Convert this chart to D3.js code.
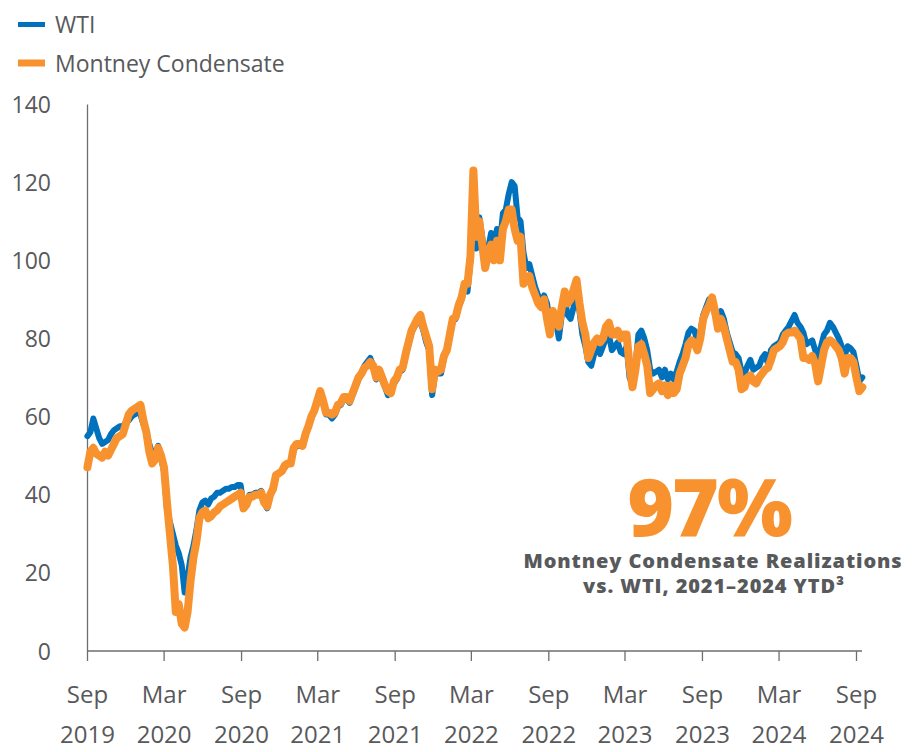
<!DOCTYPE html>
<html>
<head>
<meta charset="utf-8">
<script src="https://cdn.jsdelivr.net/npm/d3@7"></script>
<style>
  html, body { margin: 0; padding: 0; background: #ffffff; }
  svg { display: block; }
</style>
</head>
<body>
<svg id="chart" width="919" height="752"></svg>
<script>
// ---------- DATA (weekly readings, Monday of each week) ----------
const seriesNames = ["WTI", "Montney Condensate"];
const xTickLabels = [["Sep","2019"],["Mar","2020"],["Sep","2020"],["Mar","2021"],["Sep","2021"],["Mar","2022"],["Sep","2022"],["Mar","2023"],["Sep","2023"],["Mar","2024"],["Sep","2024"]];
const yTicks = [0, 20, 40, 60, 80, 100, 120, 140];

const wti2019 = [55,56,59.5,57,54.5, 53,53.5,54,55.5, 56.5,57,57.5,57.5, 58.5,59,60,60.5,61];
const wti2020 = [60.5,58,56,53, 50.5,50.5,52.5,49.5, 46,36,33,30,27, 25,22,15,19, 24,27,31,36,
                 38,38.5,37.5,39,39.5, 40.5,40.5,41,41.5, 41.5,42,42,42.5,42.5, 37,38,40,40,
                 40.5,40.5,41,38, 36.5,40,41.5,45,45.5, 46,47,48,48];
const wti2021 = [51.5,52.5,52.5,52.5, 55,57.5,59.5,61.5, 63.5,66,64,60.5,60.5, 59.5,60.5,62.5,63,
                 64.5,64.5,63.5,65.5,67.5, 69.5,71,73,74, 75,73,69.5,71.5, 69.5,67.5,65.5,66,68.5,
                 69.5,71.5,72,75.5, 78.5,81.5,83,84, 84.5,82,79,77,65.5, 71,71,71,75];
const wti2022 = [77,80.5,84.5,85,88, 90,93,92,100, 119,103,111,106, 99,103,107,104,
                 108,104,112,113,117, 120,119,111,110, 102,98,99,96, 93,91,89,91,89,
                 84,87,84.5,80, 86,90,86,85,88, 91,87,81,78, 74,73,76,79];
const wti2023 = [76,78,80,81,77, 78,79,76.5,76, 78,70,68,73, 81,82,80,77,
                 72,71,71.5,72,70, 72,69.5,71,69.5, 71.5,74,76,78.5,81.5, 82.5,82,79.5,81.5,
                 86,88,90,89.5, 86,84,87,85,81.5, 79,76.5,76,75, 71.5,71,73,74.5];
const wti2024 = [72,72.5,73,75,76, 73.5,77,78,78.5, 79,81,82,83, 84.5,86,84,83,81.5,
                 78.5,79,79.5,77, 75,78,81,82, 84,83,81.5,80,78, 75.5,78,77.5,76.5, 73,69,70];

const mon2019 = [47,51,52,50.5,50, 49.5,51,50,51.5, 53,54.5,55,55.5, 58,60.5,61.5,62,62.5];
const mon2020 = [63,59,56,51, 48,49,52,50, 47,38,30,22,10, 12,7,6,10, 18,24,28,34,
                 35.5,36,34,34.5,35.5, 36,37,37.5,38, 38.5,39,39.5,40,40.5, 36.5,37.5,39.5,39.5,
                 40,40,40.5,38, 37,40,41.5,45,45.5, 46,47.5,48,48];
const mon2021 = [52,53,53,52.5, 55.5,57.5,60,61.5, 64,66.5,64,61,61, 60.5,61,63,63.5,
                 65,65,64,66,68, 70,71,72.5,73, 74,73,70,72, 70,68,66.5,66,69,
                 70,72,72.5,76, 79,82,83.5,85, 86,83,80.5,78,67, 72,71.5,72,75.5];
const mon2022 = [77,81,85,85.5,88.5, 90.5,94,94,101, 123,106,110,104, 98,102,104,100,
                 105,100,108,110,113, 113,108,105,106, 94,95,96,93, 91,89,88,90,85,
                 81,87,85,83, 88,92,89,90,92.5, 95,89,84,81, 75,77,79,80];
const mon2023 = [79,80,83,84,81, 81,82,80,81, 81,73,67.5,72, 78,78.5,76,73,
                 66,67,68,68.5,66.5, 68,65.5,68,66, 67,71,73,75,78.5, 79.5,79,77,80,
                 85,87,88.5,90.5, 87,82.5,85,83,80, 77,74,74,72, 67,67.5,70,70.5];
const mon2024 = [69,68.5,70,71,72, 72.5,74.5,77,77.5, 78,79,81,81.5, 81.5,82,81,80,75,
                 75,74.5,75.5,73.5, 69,73,77,79, 79.5,79,78,77,75, 71,75,75,74, 70,66.5,67.5];

const wtiValues = [].concat(wti2019, wti2020, wti2021, wti2022, wti2023, wti2024);
const montneyValues = [].concat(mon2019, mon2020, mon2021, mon2022, mon2023, mon2024);
const weeks = d3.timeMonday.range(new Date(2019, 8, 2), new Date(2024, 8, 17));

// ---------- LAYOUT ----------
const colors = { wti: "#0071BC", montney: "#F7922F", text: "#58595B", axis: "#6D6E71" };
const font = "'Open Sans', 'Noto Sans', sans-serif";
const svg = d3.select("#chart");

const x = d3.scaleTime()
  .domain([new Date(2019, 8, 1), new Date(2024, 8, 1)])
  .range([87, 856]);
const y = d3.scaleLinear().domain([0, 140]).range([651, 104]);

const n = Math.min(weeks.length, wtiValues.length, montneyValues.length);
const wtiData = d3.range(n).map(i => ({ d: weeks[i], v: wtiValues[i] }));
const monData = d3.range(n).map(i => ({ d: weeks[i], v: montneyValues[i] }));

// ---------- AXES ----------
const tickDates = d3.timeMonth.range(new Date(2019, 8, 1), new Date(2024, 8, 2), 6);
const xAxis = d3.axisBottom(x).tickValues(tickDates).tickSize(10).tickFormat("");
const gx = svg.append("g").attr("transform", `translate(0,${y(0)})`).call(xAxis);
gx.select(".domain").attr("d", `M${x.range()[0]},0H862`).attr("stroke", colors.axis).attr("stroke-width", 1.3);
gx.selectAll(".tick line").attr("stroke", colors.axis).attr("stroke-width", 1.3);

gx.selectAll(".tick").each(function(d, i) {
  const lab = xTickLabels[i];
  const t = d3.select(this).append("text")
    .attr("fill", colors.text).attr("text-anchor", "middle")
    .style("font-family", font).style("font-size", "24px");
  t.append("tspan").attr("x", 0).attr("y", 52).text(lab[0]);
  t.append("tspan").attr("x", 0).attr("y", 92).text(lab[1]);
});

const yAxis = d3.axisLeft(y).tickValues(yTicks).tickSize(0).tickPadding(36);
const gy = svg.append("g").attr("transform", `translate(87,0)`).call(yAxis);
gy.select(".domain").attr("stroke", colors.axis).attr("stroke-width", 1.3);
gy.selectAll(".tick text").attr("fill", colors.text)
  .style("font-family", font).style("font-size", "23px").attr("dy", "0.35em");

// ---------- LINES ----------
const line = d3.line().x(p => x(p.d)).y(p => y(p.v));
svg.append("path").datum(wtiData).attr("d", line)
  .attr("fill", "none").attr("stroke", colors.wti).attr("stroke-width", 6)
  .attr("stroke-linejoin", "round").attr("stroke-linecap", "round");
svg.append("path").datum(monData).attr("d", line)
  .attr("fill", "none").attr("stroke", colors.montney).attr("stroke-width", 8)
  .attr("stroke-linejoin", "round").attr("stroke-linecap", "round");

// ---------- LEGEND ----------
const legend = svg.append("g");
[[seriesNames[0], colors.wti, 24.5, 33, 5], [seriesNames[1], colors.montney, 63, 72, 7]].forEach(([name, c, ly, ty, w]) => {
  legend.append("line").attr("x1", 18).attr("x2", 45).attr("y1", ly).attr("y2", ly)
    .attr("stroke", c).attr("stroke-width", w);
  legend.append("text").attr("x", 55).attr("y", ty).attr("fill", colors.text)
    .style("font-family", font).style("font-size", "23px").text(name);
});

// ---------- ANNOTATION ----------
const ann = svg.append("g").attr("text-anchor", "middle");
ann.append("text").attr("x", 709).attr("y", 536).attr("fill", colors.montney)
  .style("font-family", font).style("font-weight", 800).style("font-size", "80px")
  .style("letter-spacing", "-2px").text("97%");
ann.append("text").attr("x", 713).attr("y", 568).attr("fill", colors.text)
  .style("font-family", font).style("font-weight", 800).style("font-size", "20px")
  .style("letter-spacing", "0.9px").text("Montney Condensate Realizations");
ann.append("text").attr("x", 714).attr("y", 593).attr("fill", colors.text)
  .style("font-family", font).style("font-weight", 800).style("font-size", "20px")
  .style("letter-spacing", "0.9px").text("vs. WTI, 2021–2024 YTD³");
</script>
</body>
</html>
